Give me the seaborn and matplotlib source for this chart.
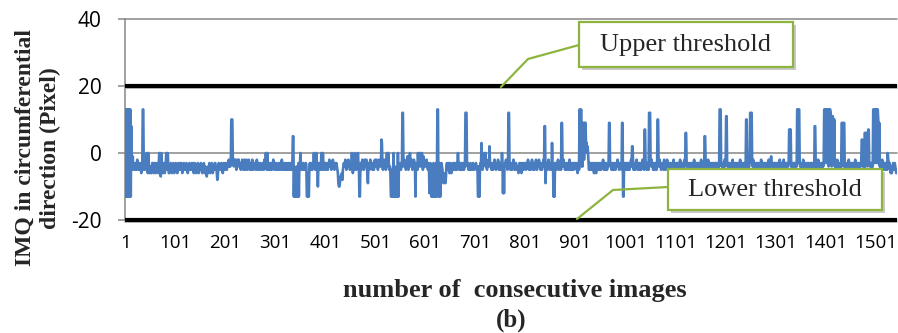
import numpy as np
import pandas as pd
import matplotlib
matplotlib.use("Agg")
import matplotlib.pyplot as plt
from matplotlib.patches import Rectangle
from matplotlib.lines import Line2D
import seaborn as sns

# IMQ (pixel) in circumferential direction, one value per consecutive image,
# stored in blocks of 100 images.
imq_0001_0100 = [
    13, -13, 13, -13, 13, -13, 13, -13, 13, -13,
    13, -13, 8, -2, -5, -1, -4, -3, -5, -4,
    -5, -3, -5, -4, -2, -3, -5, -5, -4, -3,
    -5, -4, -6, -3, -4, 13, 13, -5, -3, -5,
    -4, -2, -1, 0, -5, -6, 0, -3, -5, -6,
    -4, -5, -6, -5, -3, -3, -5, -6, -4, -3,
    -5, -6, -4, -3, -5, -4, -6, -3, 0, -2,
    -6, -7, 0, -3, -5, -6, -4, -3, -5, -6,
    -4, -3, 0, -3, -5, 0, -4, -6, -6, -5,
    -4, -3, -5, -6, -4, -5, -3, -4, -6, -5]
imq_0101_0200 = [
    -4, -3, -5, -4, -6, -4, -3, -5, -4, -5,
    -3, -5, -3, -4, -6, -4, -5, -3, -4, -5,
    -5, -4, -3, -5, -4, -6, -4, -5, -3, -4,
    -5, -5, -4, -3, -5, -4, -3, -6, -4, -3,
    -5, -4, -6, -4, -5, -3, -4, -6, -5, -4,
    -5, -3, -4, -5, -6, -4, -5, -3, -4, -6,
    -4, -5, -6, -7, -5, -6, -4, -5, -3, -4,
    -6, -4, -5, -3, -4, -6, -4, -5, -5, -3,
    -3, -5, -4, -6, -8, -7, -4, -3, -5, -4,
    -5, -4, -3, -5, -4, -6, -4, -3, -5, -4]
imq_0201_0300 = [
    -4, -3, -5, -5, -4, -3, -4, -2, -4, -3,
    -4, -3, 10, 10, 10, -2, -3, -4, -2, -3,
    -2, -3, -5, -3, -2, -4, -3, -2, -4, -3,
    -3, -5, -3, -4, -2, -3, -5, -3, -2, -4,
    -5, -3, -2, -4, -5, -4, -3, -2, -4, -5,
    -3, -4, -5, -4, -2, -3, -5, -4, -3, -4,
    -4, -5, -4, -2, -4, -5, -3, -4, -5, -3,
    -3, -4, -5, -5, -4, -3, -4, -5, -2, -4,
    -4, 0, -3, -5, 0, -4, -5, -4, -3, -5,
    -4, -3, -5, -5, -4, -3, -2, -4, -5, -3]
imq_0301_0400 = [
    -4, -3, -5, -4, -5, -4, -3, -5, -4, -3,
    -4, -5, -4, -2, -4, -5, -3, -4, -5, -4,
    -3, -5, -4, -3, -5, -4, -5, -3, -4, -5,
    -3, -4, -5, -4, -3, 5, 5, -13, -4, -13,
    -13, -5, -13, -4, -13, -13, -3, -13, -4, -5,
    0, -3, -4, -5, -5, -4, -3, -5, -4, -5,
    -4, -3, -4, -13, -13, -6, -13, -13, -4, -3,
    -4, -5, -4, -3, -5, -4, -3, 0, -3, -4,
    -5, -5, 0, -3, -4, -10, -4, -3, -5, -4,
    -5, -4, 0, -3, -5, 0, -3, -4, -5, -3]
imq_0401_0500 = [
    -4, -3, -5, -3, -4, -5, -3, -4, -2, -3,
    -4, -3, -5, -4, -3, -2, -4, -3, -5, -3,
    -3, -4, -3, -4, -5, -6, -9, -10, -10, -9,
    -7, -8, -7, -6, -8, -5, -4, -3, -4, -3,
    -2, -4, -5, -3, -4, -3, -2, -4, -3, -5,
    -4, -3, -4, 0, -4, -6, -4, -3, -5, 0,
    -3, -4, -5, -3, -4, 0, -3, -4, -13, -13,
    -4, -3, -5, -3, -2, -4, -3, -5, -3, -2,
    -4, -3, -2, -4, -6, -9, -4, -3, -5, -3,
    -2, -4, -3, -3, -5, -3, -4, -5, -3, -2]
imq_0501_0600 = [
    -4, -3, -2, -4, -3, -5, -3, -2, -4, -3,
    -3, -4, 4, 3, -3, -5, -3, -4, -2, -4,
    -3, -5, -3, 0, -4, -3, 0, -4, -5, -4,
    -6, -13, -13, -5, -13, -13, 0, -13, -13, -4,
    -13, -13, -6, -13, -13, 0, -13, -4, -5, -4,
    -3, -5, -3, -4, 12, 12, -3, -4, -2, -4,
    -3, -5, -3, -4, -1, -3, -5, -3, -4, 0,
    -3, -4, -2, -3, -5, -3, -4, -2, -4, -3,
    -13, -3, -4, -3, -5, 0, -3, -4, -3, 0,
    -4, -3, -2, 0, -3, -5, -1, -3, -4, -3]
imq_0601_0700 = [
    -3, -4, -2, -4, -3, -5, -3, -4, -12, -4,
    -3, -4, -13, -4, -13, -13, -3, -13, -4, -13,
    -13, -3, -13, -4, 13, 13, -13, -13, -3, -13,
    -13, -4, -3, -4, -5, -8, -9, -8, -6, -8,
    -9, -7, -4, -3, -5, -4, -3, -5, -6, -4,
    -3, -5, -6, -5, -4, -3, -5, -4, -3, -5,
    -5, -4, -3, -5, -3, 0, -3, -4, -5, -3,
    -4, -5, -4, -3, -5, -4, -3, -5, -3, -4,
    12, 12, 12, -3, -4, -3, -5, -4, -5, -4,
    -3, -5, -5, -4, -4, -3, -5, -5, -4, -4]
imq_0701_0800 = [
    -4, -3, -5, -5, -4, -13, -13, -4, -13, -4,
    -3, -4, 3, -3, -5, -3, -4, -2, 0, -3,
    0, -4, -3, -5, -3, -4, -2, -4, 2, -3,
    -4, -3, -5, -4, -3, -5, -3, -4, -2, -4,
    -3, -5, -4, -3, -4, -2, -3, -5, -3, -4,
    -5, -3, -4, 0, -3, -12, -4, -12, -4, -3,
    -4, -2, -4, -3, -5, -3, 12, 12, -3, -4,
    -5, -3, -4, -5, -3, -4, -2, -4, -5, -3,
    -4, -3, -5, -4, -5, -4, -6, -4, -3, -5,
    -4, -3, -6, -5, -4, -3, -5, -4, -3, -4]
imq_0801_0900 = [
    -3, -5, -4, -3, -4, -2, -4, -5, -3, -4,
    -5, -3, -4, -2, -4, -5, -3, -4, -5, -3,
    -4, -2, -4, -5, -3, -4, -3, -2, -4, -3,
    -5, -4, -3, -5, -3, -4, -2, -4, 8, 8,
    -9, -4, -3, -5, -3, -4, -2, -4, -5, -3,
    -4, -3, -5, 3, -3, -4, -13, -4, -13, -3,
    -4, -3, -5, -3, -4, -2, -4, -5, -3, -4,
    -3, -5, 9, 9, -3, -4, -2, -4, -3, -5,
    -4, -3, -5, -4, -3, -4, -5, -4, -2, -4,
    -5, -3, -4, -5, -4, -3, -5, -4, -3, -4]
imq_0901_1000 = [
    -3, -4, -5, -3, -6, -4, -3, -5, 13, 13,
    -3, 13, -4, -3, -4, 9, 9, -2, 9, 8,
    9, 2, 3, 0, 2, 0, -3, -5, -3, -4,
    -5, -3, -4, -5, -4, -3, -5, -6, -4, -3,
    -4, -6, -4, -3, -5, -4, -3, -5, -5, -4,
    -3, -5, -4, -3, -4, -2, -4, -5, -3, -4,
    -5, -3, -4, -5, -4, -3, -4, 9, 9, -3,
    -4, -3, -5, -4, -3, -5, -5, -4, -3, -4,
    -5, -3, -4, -4, -2, -4, -3, -5, -4, -3,
    -4, -3, -5, 9, 9, -13, -13, -4, -3, -5]
imq_1001_1100 = [
    -4, -3, -5, -4, -3, -5, -3, -4, -5, -3,
    -4, -2, -4, 2, 2, -3, -5, -3, -4, -5,
    -3, -4, -2, -4, -5, -3, -4, -3, -5, -3,
    -4, -5, -3, -4, -2, -4, -3, -5, 7, 7,
    -3, -4, -5, -3, -4, -3, -5, 12, 12, 12,
    -3, -4, -2, -4, -3, -5, -4, -3, -5, -3,
    -4, -3, -5, -4, 10, 10, -3, -4, -2, -4,
    -3, -5, -4, -3, -4, -3, -5, -2, -3, -4,
    -5, -3, -4, -2, -4, -5, -3, -4, -3, -5,
    -4, -3, -5, -4, -3, -4, -2, -4, -5, -3]
imq_1101_1200 = [
    -4, -3, -5, -4, -3, -5, -3, -4, -4, -2,
    -4, -3, -5, -3, -4, -5, -3, -4, -2, -4,
    6, 6, -3, -4, -3, -5, -4, -3, -5, -3,
    -4, -5, -3, -4, -3, -5, -4, -2, -4, -3,
    -5, -3, -4, -4, -3, -5, -3, -4, -5, -3,
    -4, -2, -4, -5, -3, -4, -3, -5, 5, 5,
    -3, -4, -5, -3, -4, -2, -4, -5, -3, -4,
    -5, -3, -4, -4, -3, -5, -3, -4, -5, -3,
    -4, -3, -5, -3, -4, -5, -3, -4, 13, 13,
    13, -3, -4, -3, -5, -4, -3, -4, -2, -4]
imq_1201_1300 = [
    -3, 11, 11, -3, -4, -3, -5, -4, -3, -4,
    -5, -3, -4, -4, -2, -4, -3, -5, -4, -3,
    -4, -3, -5, -4, -3, -5, -3, -4, -4, -2,
    -4, -3, -5, -3, -4, -5, -3, -4, -3, -5,
    -4, 10, 10, -3, -4, -3, -5, -4, -3, 12,
    12, 12, 12, -3, -4, -2, -4, -5, -3, -4,
    -5, -3, -4, -4, -3, -5, -3, -4, -5, -3,
    -4, -2, -4, -3, -5, -4, -3, -4, -3, -5,
    -4, -3, -5, -4, -3, -4, -2, -4, -5, -3,
    -2, -1, -3, -4, -3, -5, -4, -3, -4, -3]
imq_1301_1400 = [
    -4, -3, -5, -4, -3, -5, -3, -4, -2, -3,
    -4, -3, -5, -4, -3, -4, -2, -4, -5, -3,
    -4, -3, -5, -3, -4, -4, -3, 7, 7, -3,
    7, -4, -3, -5, -3, -4, -5, -3, -4, -3,
    -4, -3, -4, 13, 13, -3, 13, 13, -3, -4,
    -3, -5, -4, -3, -4, -2, -4, -5, -3, -4,
    -5, -3, -4, -4, -3, -5, -3, -4, -5, -3,
    -4, -3, -5, -3, -4, -4, -3, -5, 8, 8,
    -3, -4, -5, -3, -4, -2, -4, -5, -3, -4,
    -4, -3, -5, -4, -3, -4, -3, 13, 13, 12]
imq_1401_1500 = [
    13, -3, 13, 13, 12, 13, -4, 13, 13, 13,
    12, -3, -4, 10, 11, 10, -3, 10, -4, -3,
    -5, -3, -4, -2, -4, -5, -3, -4, -3, -5,
    -4, -3, 9, 9, -3, -4, 9, 9, -4, -3,
    -5, -3, -4, -4, -3, -5, -2, -3, -4, -3,
    -5, -4, -3, -4, -3, -5, -4, -3, -4, -2,
    -4, -3, -5, -4, -3, -4, -3, -5, -4, -3,
    -4, -3, 4, 4, -3, -4, -3, -5, 6, 6,
    -3, 6, 6, -4, -3, 7, 7, -3, -4, -3,
    -4, -3, -5, -3, -4, 13, 13, 13, -3, 13]
imq_1501_1543 = [
    13, 13, -3, 13, 13, 10, -3, 9, -4, -3,
    -5, -3, -4, -2, -4, -5, -3, -4, -3, -5,
    -3, -4, -3, -5, 0, -2, -3, -4, -3, -5,
    -6, -4, -6, -5, -4, -3, -4, -5, -3, -4,
    -5, -6, -5]

upper_threshold = 20
lower_threshold = -20

y_ticks = [-20, 0, 20, 40]
x_tick_labels = ["1", "101", "201", "301", "401", "501", "601", "701",
                 "801", "901", "1001", "1101", "1201", "1301", "1401", "1501"]

imq = (imq_0001_0100 + imq_0101_0200 + imq_0201_0300 + imq_0301_0400 +
       imq_0401_0500 + imq_0501_0600 + imq_0601_0700 + imq_0701_0800 +
       imq_0801_0900 + imq_0901_1000 + imq_1001_1100 + imq_1101_1200 +
       imq_1201_1300 + imq_1301_1400 + imq_1401_1500 + imq_1501_1543)
df = pd.DataFrame({"image": np.arange(1, len(imq) + 1), "imq": imq})

sns.set_theme(style="white")

W, H = 898, 333
fig = plt.figure(figsize=(W / 100, H / 100), dpi=100)
fig.patch.set_facecolor("white")


def fx(px):
    return px / W


def fy(py):
    return 1 - py / H


ax = fig.add_axes([fx(125), fy(220), fx(897) - fx(125), fy(19) - fy(220)])
ax.set_facecolor("white")

grid_color = "#868686"
for yv in y_ticks:
    ax.axhline(yv, color=grid_color, lw=1.1, zorder=1, clip_on=False)

sns.lineplot(data=df, x="image", y="imq", ax=ax, color="#4A7DBF",
             linewidth=1.9, estimator=None, sort=False, zorder=3)

# threshold lines
for thr in (upper_threshold, lower_threshold):
    ax.axhline(thr - 0.6, color="#b4b4b4", lw=1.2, zorder=3.5, clip_on=False)
    ax.axhline(thr, color="black", lw=3.0, zorder=4, solid_capstyle="butt",
               clip_on=False)

n = len(imq)
ax.set_xlim(0.5, n + 0.5)
ax.set_ylim(-20, 40)

ax.set_xticks([int(s) for s in x_tick_labels])
ax.set_xticklabels(x_tick_labels, fontfamily="Open Sans", fontsize=13.5)
ax.set_yticks(y_ticks)
ax.set_yticklabels([str(v) for v in y_ticks], fontfamily="Open Sans",
                   fontsize=15)
ax.tick_params(axis="x", length=0, pad=10, colors="black")
ax.tick_params(axis="y", length=5, width=1.1, color=grid_color, pad=12,
               left=True, labelcolor="black")
ax.set_xlabel("")
ax.set_ylabel("")
for side in ("top", "right", "bottom"):
    ax.spines[side].set_visible(False)
ax.spines["left"].set_color(grid_color)
ax.spines["left"].set_linewidth(1.1)
ax.grid(False)

serif = "Liberation Serif"
fig.text(fx(38), fy(148), "IMQ in circumferential\ndirection (Pixel)",
         rotation=90, ha="center", va="center", ma="center",
         fontfamily=serif, fontweight="bold", fontsize=17, linespacing=1.28)
fig.text(fx(515), fy(291), "number of  consecutive images", ha="center",
         va="center", fontfamily=serif, fontweight="bold", fontsize=19)
fig.text(fx(511), fy(320), "(b)", ha="center", va="center",
         fontfamily=serif, fontweight="bold", fontsize=18)

green = "#8DB43E"


def callout(x0, y0, x1, y1, text, leader):
    # shadow, box, text and leader line, all in figure pixels
    fig.patches.append(Rectangle((fx(x0 + 3), fy(y1 + 3)), fx(x1) - fx(x0),
                                 fy(y0) - fy(y1), transform=fig.transFigure,
                                 facecolor="#c8c8c8", edgecolor="none",
                                 zorder=5))
    fig.patches.append(Rectangle((fx(x0), fy(y1)), fx(x1) - fx(x0),
                                 fy(y0) - fy(y1), transform=fig.transFigure,
                                 facecolor="white", edgecolor=green,
                                 linewidth=1.6, zorder=6))
    fig.text(fx((x0 + x1) / 2), fy((y0 + y1) / 2 + 1), text, ha="center",
             va="center", fontfamily=serif, fontsize=19, zorder=7)
    xs = [fx(p[0]) for p in leader]
    ys = [fy(p[1]) for p in leader]
    fig.lines.append(Line2D(xs, ys, transform=fig.transFigure, color=green,
                            linewidth=1.6, zorder=6))


callout(579, 22, 793, 67, "Upper threshold",
        [(579, 45), (528, 59), (501, 87)])
callout(668, 169, 882, 210, "Lower threshold",
        [(668, 187), (613, 190), (577, 219)])

fig.savefig("out.png", dpi=100, facecolor="white")
